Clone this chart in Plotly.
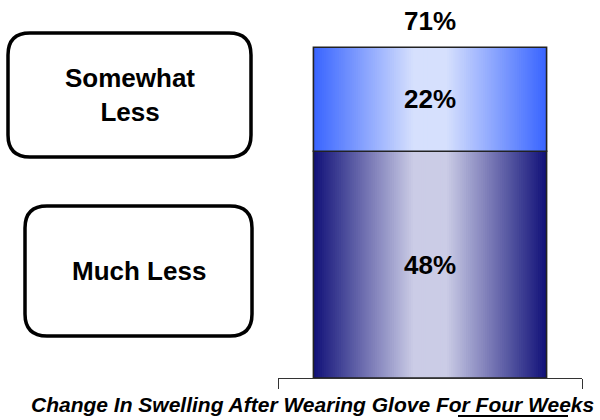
import plotly.graph_objects as go

# ---- data ----
category = ["Change In Swelling After Wearing Glove For Four Weeks"]
segments = ["Much Less", "Somewhat Less"]
values = [48, 22]
total_labels = [71]

# ---- styles ----
FONT = "Liberation Sans, Arial, sans-serif"
edge_colors = [(16, 16, 120), (56, 100, 255)]
center_colors = [(203, 204, 230), (214, 224, 253)]
BAR_W = 0.767
N_STRIPS = 110

W_PX, H_PX = 600, 420
L, R, T, B = 278, 18, 0, 42
PW, PH = W_PX - L - R, H_PX - T - B


def px_x(p):
    return (p - L) / PW


def px_y(p):
    return (H_PX - B - p) / PH


def mix(c1, c2, f):
    return "rgb(%d,%d,%d)" % tuple(round(a + (b - a) * f) for a, b in zip(c1, c2))


def light(t):
    d = abs(t - 0.5) * 2
    f = (1.0 - d) / 0.86
    return max(0.0, min(1.0, f))


fig = go.Figure()
sw = BAR_W / N_STRIPS
bases = [sum(values[:i]) for i in range(len(values))]
for i, (seg, v) in enumerate(zip(segments, values)):
    offs, cols, wids = [], [], []
    for k in range(N_STRIPS):
        t = (k + 0.5) / N_STRIPS
        o = -BAR_W / 2 + k * sw
        offs.append(o)
        wids.append(min(sw * 1.8, BAR_W / 2 - o))
        cols.append(mix(edge_colors[i], center_colors[i], light(t)))
    fig.add_trace(go.Bar(
        x=category * N_STRIPS, y=[v] * N_STRIPS, base=[bases[i]] * N_STRIPS,
        offset=offs, width=wids,
        marker=dict(color=cols, line=dict(width=0)),
        hoverinfo="skip", showlegend=False,
    ))
    fig.add_trace(go.Bar(
        x=category, y=[v], base=[bases[i]], width=[BAR_W], offset=[-BAR_W / 2],
        marker=dict(color="rgba(0,0,0,0)", line=dict(color="#222222", width=1.6)),
        text=[f"{v}%"], textposition="inside", insidetextanchor="middle",
        textfont=dict(family=FONT, size=26, color="black", weight="bold"),
        name=seg, showlegend=False,
    ))

annotations = []
for t in total_labels:
    annotations.append(dict(x=category[0], y=sum(values), xref="x", yref="y",
                            text=f"{t}%", showarrow=False, yanchor="bottom", yshift=9,
                            font=dict(family=FONT, size=26, color="black", weight="bold")))

# rounded label boxes (paper coords from pixel positions)
def rounded_box(x0, y0, x1, y1, r=22):
    ax0, ax1 = px_x(x0), px_x(x1)
    ay0, ay1 = px_y(y0), px_y(y1)
    rx, ry = r / PW, r / PH
    return (f"M {ax0+rx} {ay0} L {ax1-rx} {ay0} Q {ax1} {ay0} {ax1} {ay0-ry} "
            f"L {ax1} {ay1+ry} Q {ax1} {ay1} {ax1-rx} {ay1} "
            f"L {ax0+rx} {ay1} Q {ax0} {ay1} {ax0} {ay1+ry} "
            f"L {ax0} {ay0-ry} Q {ax0} {ay0} {ax0+rx} {ay0} Z")

boxes = [(8, 33, 251, 157, "Somewhat<br>Less"), (25, 206, 252, 336, "Much Less")]
shapes = []
for x0, y0, x1, y1, lab in boxes:
    shapes.append(dict(type="path", path=rounded_box(x0, y0, x1, y1),
                       xref="paper", yref="paper",
                       line=dict(color="black", width=3.5), fillcolor="white"))
    annotations.append(dict(text=lab, x=px_x((x0 + x1) / 2), y=px_y((y0 + y1) / 2),
                            xref="paper", yref="paper", showarrow=False,
                            xanchor="center", yanchor="middle",
                            font=dict(family=FONT, size=26, color="black", weight="bold")))

annotations.append(dict(text="<i>" + category[0] + "</i>", x=px_x(312), y=px_y(404),
                        xref="paper", yref="paper", showarrow=False,
                        xanchor="center", yanchor="middle",
                        font=dict(family=FONT, size=21, color="black", weight="bold")))
shapes.append(dict(type="line", xref="paper", yref="paper",
                   x0=px_x(458), x1=px_x(568), y0=px_y(416), y1=px_y(416),
                   line=dict(color="black", width=2)))

fig.update_layout(
    width=W_PX, height=H_PX,
    margin=dict(l=L, r=R, t=T, b=B),
    paper_bgcolor="white", plot_bgcolor="white",
    barmode="overlay",
    shapes=shapes, annotations=annotations,
    xaxis=dict(type="category", range=[-0.5, 0.5], showline=True, linecolor="#333333",
               linewidth=1, ticks="outside", tickson="boundaries", ticklen=10,
               tickcolor="#333333", showticklabels=False, showgrid=False, zeroline=False,
               fixedrange=True),
    yaxis=dict(range=[0, 80], visible=False, fixedrange=True),
    showlegend=False,
)

fig.write_html("out.html", config={"displayModeBar": False},
               post_script="document.body.style.margin='0';document.body.style.overflow='hidden';")
